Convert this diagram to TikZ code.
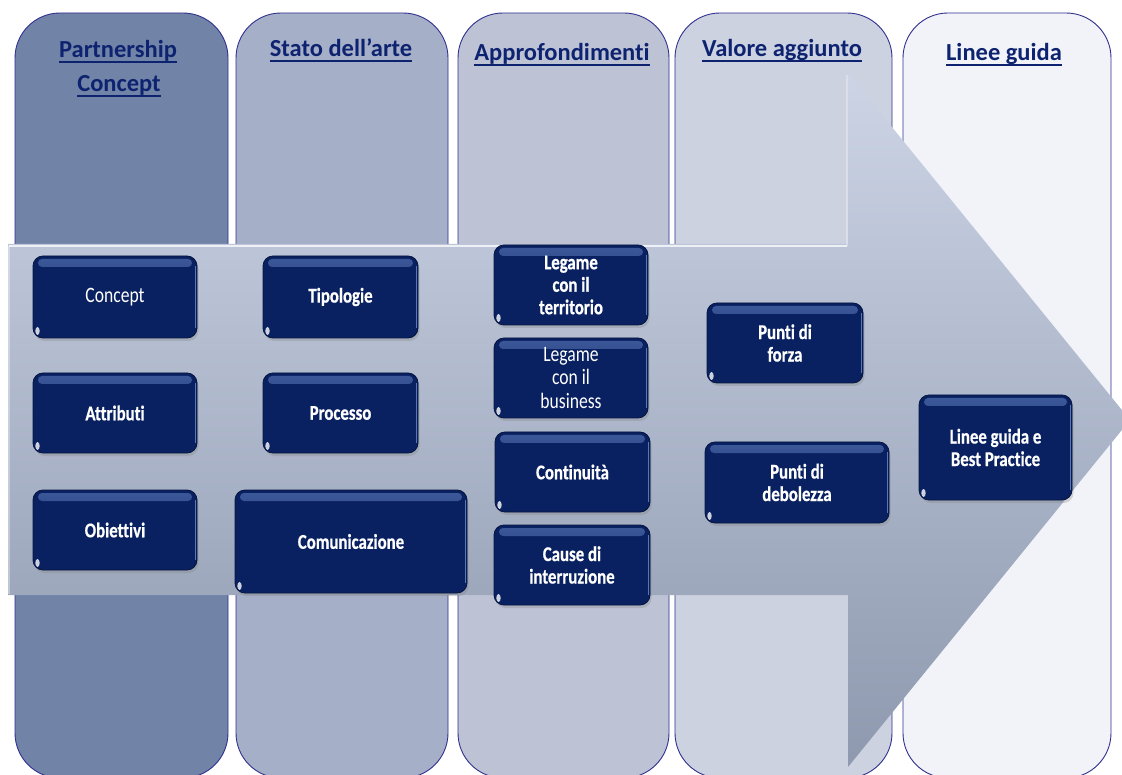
\documentclass[tikz,border=0pt]{standalone}
\usepackage{fontspec}
\setmainfont{Carlito}[Ligatures=NoCommon]
\newfontfamily\btnfont{Carlito}[FakeStretch=0.8, Ligatures=NoCommon]
\newfontfamily\btnbold{Carlito}[UprightFont=* Bold, FakeStretch=0.8, FakeBold=0.6, Ligatures=NoCommon]
\usetikzlibrary{shadows}

\definecolor{colA}{HTML}{7183A7}
\definecolor{colB}{HTML}{A6AFC8}
\definecolor{colC}{HTML}{BDC3D5}
\definecolor{colD}{HTML}{CDD2E1}
\definecolor{colE}{HTML}{F2F3F8}
\definecolor{colEdge}{HTML}{30308E}
\definecolor{hdrInk}{HTML}{0E2370}
\definecolor{arrTop}{HTML}{CCD4E5}
\definecolor{arrMid}{HTML}{B3BBCE}
\definecolor{arrBot}{HTML}{8E99AF}
\definecolor{btnFill}{HTML}{0A2161}
\definecolor{btnEdge}{HTML}{05153F}
\definecolor{btnHi}{HTML}{4F6DAE}
\definecolor{btnRim}{HTML}{7C9CDA}

% underline at a fixed depth, crossing descenders
\newcommand\hdrline[1]{\setbox0\hbox{#1}\rlap{\rule[-4.8pt]{\wd0}{1.8pt}}\box0}

\tikzset{
  column/.style={draw=colEdge, line width=0.9pt, rounded corners=45pt},
  header/.style={anchor=base, inner sep=0pt, text=hdrInk,
    font=\fontsize{24.5}{28}\selectfont\bfseries},
  btn/.style={draw=btnEdge, line width=0.8pt, fill=btnFill,
    rounded corners=10pt, text=white, align=center, inner sep=0pt,
    drop shadow={shadow xshift=1.5pt, shadow yshift=-3pt, opacity=0.3},
    font=\btnbold\fontsize{21}{22.5}\selectfont,
    path picture={
      \fill[top color=btnHi, bottom color=btnFill, rounded corners=4pt, opacity=0.75]
        ([shift={(5pt,-3pt)}]path picture bounding box.north west)
        rectangle ([shift={(-5pt,-11pt)}]path picture bounding box.north east);
      \draw[btnRim, line width=1.2pt, opacity=0.7]
        ([shift={(-1.6pt,-10pt)}]path picture bounding box.north east)
        -- ([shift={(-1.6pt,10pt)}]path picture bounding box.south east);
      \fill[white, opacity=0.8]
        ([shift={(4.5pt,7pt)}]path picture bounding box.south west)
        ellipse [x radius=2.2pt, y radius=4pt];
    }},
  btnlight/.style={btn, font=\btnfont\fontsize{22}{23.5}\selectfont},
}

\begin{document}
\begin{tikzpicture}[x=1pt, y=-1pt]
\useasboundingbox (0,0) rectangle (1122,775);
\fill[white] (0,0) rectangle (1122,775);

% five phase columns
\draw[column, fill=colA] (15,13) rectangle (228,778);
\draw[column, fill=colB] (236,13) rectangle (448,778);
\draw[column, fill=colC] (458,13) rectangle (669,778);
\draw[column, fill=colD] (675,13) rectangle (892,778);
\draw[column, fill=colE] (903,13) rectangle (1111,778);

% column headings
\node[header] (h1a) at (118,58) {\hdrline{Partnership}};
\node[header] (h1b) at (119,92) {\hdrline{Concept}};
\node[header] (h2) at (341,57) {\hdrline{Stato dell’arte}};
\node[header] (h3) at (562,61) {\hdrline{Approfondimenti}};
\node[header] (h4) at (782,57) {\hdrline{Valore aggiunto}};
\node[header] (h5) at (1004,61) {\hdrline{Linee guida}};

% large process arrow
\coordinate (tip) at (1130,420);
\shade[top color=arrTop, middle color=arrMid, bottom color=arrBot]
  (8,244) -- (848,244) -- (848,73) -- (tip) -- (848,767) -- (848,595)
  -- (8,595) -- cycle;
\draw[white, opacity=0.75, line width=2pt] (9,246) -- (847,246);
\draw[white, opacity=0.3, line width=1.2pt] (847,246) -- (847,75);
\draw[white, opacity=0.35, line width=1.2pt] (9,246) -- (9,594);

% column 1
\node[btnlight, minimum width=164pt, minimum height=82pt] (concept) at (115,297) {Concept};
\node[btn, minimum width=164pt, minimum height=80pt] (attributi) at (115,413) {Attributi};
\node[btn, minimum width=164pt, minimum height=80pt] (obiettivi) at (115,530) {Obiettivi};

% column 2
\node[btn, minimum width=155pt, minimum height=82pt] (tipologie) at (340.5,297) {Tipologie};
\node[btn, minimum width=155pt, minimum height=80pt] (processo) at (340.5,413) {Processo};
\node[btn, minimum width=232pt, minimum height=103pt] (comunicazione) at (351,541.5) {Comunicazione};

% column 3
\node[btn, minimum width=154pt, minimum height=80pt] (territorio) at (571,285) {Legame\\con il\\territorio};
\node[btnlight, minimum width=154pt, minimum height=80pt] (business) at (571,378) {Legame\\con il\\business};
\node[btn, minimum width=155pt, minimum height=80pt] (continuita) at (572.5,472) {Continuità};
\node[btn, minimum width=156pt, minimum height=80pt] (cause) at (572,565) {Cause di\\interruzione};

% column 4
\node[btn, minimum width=156pt, minimum height=80pt] (forza) at (785,343) {Punti di\\forza};
\node[btn, minimum width=184pt, minimum height=81pt] (debolezza) at (797,482.5) {Punti di\\debolezza};

% column 5
\node[btn, minimum width=153pt, minimum height=105pt] (linee) at (995.5,447.5) {Linee guida e\\Best Practice};
\end{tikzpicture}
\end{document}
